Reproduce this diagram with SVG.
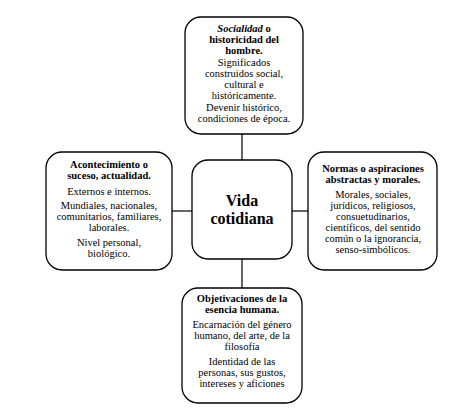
<svg xmlns="http://www.w3.org/2000/svg" width="465" height="415" viewBox="0 0 465 415">
<style>
.box{fill:#fff;stroke:#000;stroke-width:1.3}
.ln{stroke:#000;stroke-width:1.2;fill:none}
text{font-family:"Liberation Serif","Times New Roman",serif;font-size:10.5px;fill:#000;text-anchor:middle}
.b{font-weight:bold}
.c{font-weight:bold;font-size:16px}
</style>
<rect width="465" height="415" fill="#fff"/>
<g id="connectors">
<line class="ln" x1="242" y1="134" x2="242" y2="160"/>
<line class="ln" x1="242" y1="259" x2="242" y2="288"/>
<line class="ln" x1="172" y1="211" x2="192" y2="211"/>
<line class="ln" x1="292" y1="211" x2="308" y2="211"/>
</g>
<g id="center">
<rect class="box" x="192" y="160" width="100" height="99" rx="16"/>
<text class="c" x="242" y="206">Vida</text>
<text class="c" x="242" y="224">cotidiana</text>
</g>
<g id="top">
<rect class="box" x="185" y="17" width="118" height="117" rx="16"/>
<text class="b" x="244" y="32"><tspan font-style="italic">Socialidad</tspan> o</text>
<text class="b" x="244" y="43">historicidad del</text>
<text class="b" x="244" y="54">hombre.</text>
<text x="244" y="66">Significados</text>
<text x="244" y="77">construidos social,</text>
<text x="244" y="88">cultural e</text>
<text x="244" y="99">históricamente.</text>
<text x="244" y="111">Devenir histórico,</text>
<text x="244" y="122">condiciones de época.</text>
</g>
<g id="left">
<rect class="box" x="46" y="152" width="126" height="118" rx="16"/>
<text class="b" x="109" y="168">Acontecimiento o</text>
<text class="b" x="109" y="179">suceso, actualidad.</text>
<text x="109" y="195">Externos e internos.</text>
<text x="109" y="209">Mundiales, nacionales,</text>
<text x="109" y="220">comunitarios, familiares,</text>
<text x="109" y="231">laborales.</text>
<text x="109" y="246">Nivel personal,</text>
<text x="109" y="257">biológico.</text>
</g>
<g id="right">
<rect class="box" x="308" y="152" width="129" height="118" rx="16"/>
<text class="b" x="373" y="172">Normas o aspiraciones</text>
<text class="b" x="373" y="183">abstractas y morales.</text>
<text x="373" y="198">Morales, sociales,</text>
<text x="373" y="209">jurídicos, religiosos,</text>
<text x="373" y="220">consuetudinarios,</text>
<text x="373" y="231">científicos, del sentido</text>
<text x="373" y="242">común o la ignorancia,</text>
<text x="373" y="253">senso-simbólicos.</text>
</g>
<g id="bottom">
<rect class="box" x="182" y="288" width="120" height="115" rx="16"/>
<text class="b" x="242" y="302">Objetivaciones de la</text>
<text class="b" x="242" y="313">esencia humana.</text>
<text x="242" y="328">Encarnación del género</text>
<text x="242" y="339">humano, del arte, de la</text>
<text x="242" y="350">filosofía</text>
<text x="242" y="365">Identidad de las</text>
<text x="242" y="376">personas, sus gustos,</text>
<text x="242" y="387">intereses y aficiones</text>
</g>
</svg>
